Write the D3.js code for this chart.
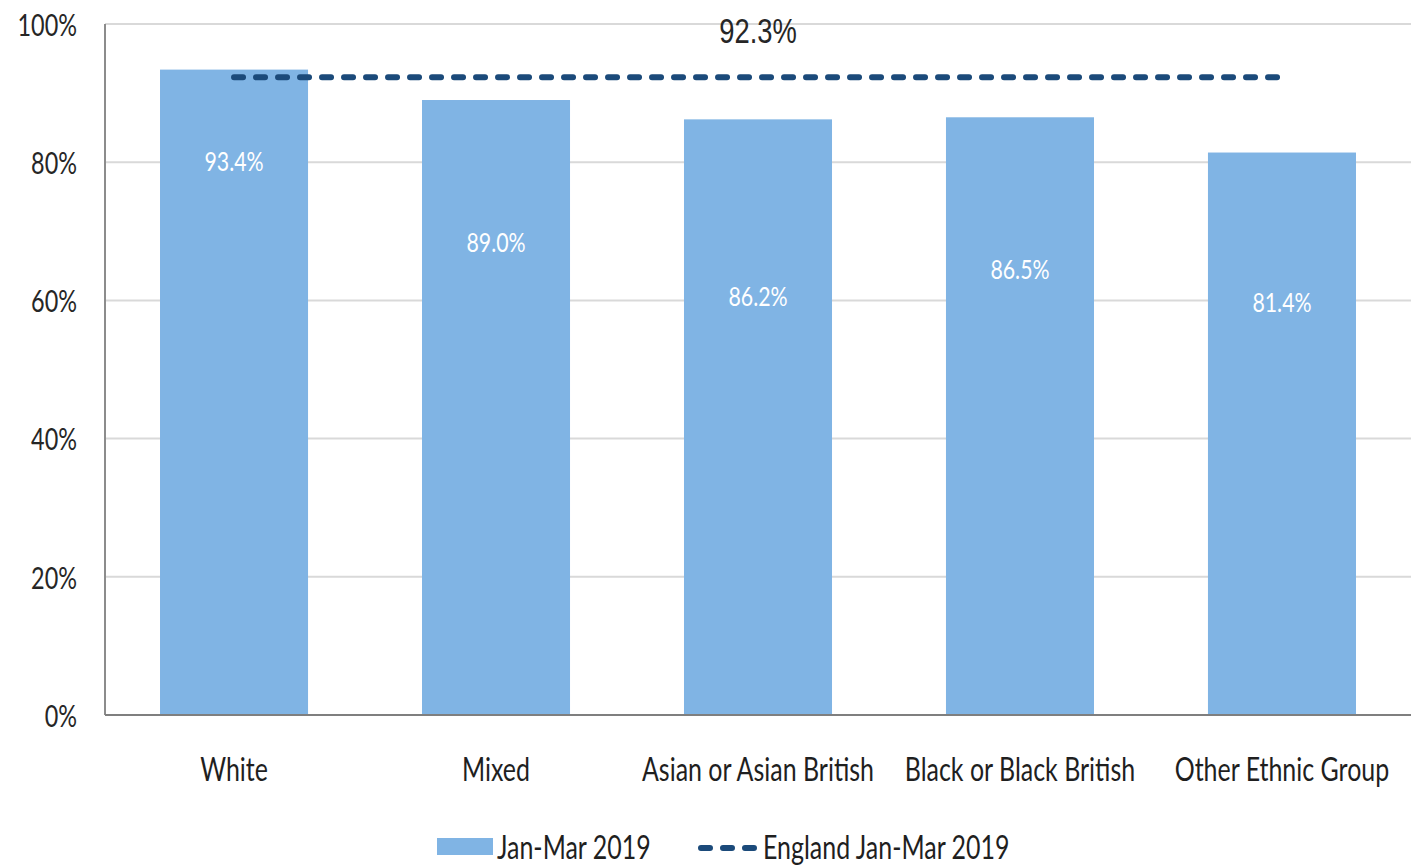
<!DOCTYPE html>
<html>
<head>
<meta charset="utf-8">
<script src="https://cdn.jsdelivr.net/npm/d3@7/dist/d3.min.js"></script>
<style>
  html, body { margin: 0; padding: 0; background: #ffffff; }
  svg { display: block; }
  text { font-family: Lato, "Open Sans", sans-serif; }
</style>
</head>
<body>
<svg id="chart" width="1422" height="867"></svg>
<script>
// Share of people in each ethnic group, Jan-Mar 2019
const categories = ["White", "Mixed", "Asian or Asian British", "Black or Black British", "Other Ethnic Group"];
const rates = [93.4, 89.0, 86.2, 86.5, 81.4];
const englandRate = 92.3;
const yTicks = [0, 20, 40, 60, 80, 100];
const seriesNames = ["Jan-Mar 2019", "England Jan-Mar 2019"];

// Where each in-bar value label sits, in axis units (label centre)
const labelLevels = [80.1, 68.4, 60.6, 64.5, 59.7];

const svg = d3.select("#chart");
const margin = { left: 105, right: 11, top: 24, bottom: 152 };
const W = 1422, H = 867;
const xSX = 0.78;            // horizontal squeeze applied to all text

const x = d3.scaleBand()
  .domain(categories)
  .range([margin.left, W - margin.right])
  .paddingInner(0.435)
  .paddingOuter(0.21);

const y = d3.scaleLinear()
  .domain([0, 100])
  .range([H - margin.bottom, margin.top]);

function squeezedText(g, px, py, str, opts) {
  const t = g.append("text")
    .attr("transform", `translate(${px},${py}) scale(${opts.sx || xSX},1)`)
    .attr("text-anchor", opts.anchor || "middle")
    .attr("dominant-baseline", "central")
    .attr("font-size", opts.size)
    .attr("fill", opts.fill || "#1a1a1a")
    .text(str);
  if (opts.family) t.style("font-family", opts.family);
  return t;
}

// Gridlines
svg.append("g")
  .selectAll("line")
  .data(yTicks.filter(d => d > 0))
  .join("line")
  .attr("x1", margin.left).attr("x2", W - margin.right)
  .attr("y1", d => y(d)).attr("y2", d => y(d))
  .attr("stroke", "#d9d9d9").attr("stroke-width", 2);

// Bars
svg.append("g")
  .selectAll("rect")
  .data(rates)
  .join("rect")
  .attr("x", (d, i) => x(categories[i]))
  .attr("width", x.bandwidth())
  .attr("y", d => y(d))
  .attr("height", d => y(0) - y(d))
  .attr("fill", "#80b4e4");

// Axes lines
svg.append("line")
  .attr("x1", margin.left).attr("x2", margin.left)
  .attr("y1", y(100)).attr("y2", y(0))
  .attr("stroke", "#8c8c8c").attr("stroke-width", 2);
svg.append("line")
  .attr("x1", margin.left).attr("x2", W - margin.right)
  .attr("y1", y(0)).attr("y2", y(0))
  .attr("stroke", "#7f7f7f").attr("stroke-width", 2);

// England benchmark line
const first = categories[0], last = categories[categories.length - 1];
svg.append("line")
  .attr("x1", x(first) + x.bandwidth() / 2)
  .attr("x2", x(last) + x.bandwidth() / 2)
  .attr("y1", y(englandRate)).attr("y2", y(englandRate))
  .attr("stroke", "#1b4a7a")
  .attr("stroke-width", 6)
  .attr("stroke-linecap", "round")
  .attr("stroke-dasharray", "9,13");

// Benchmark value label
squeezedText(svg, x(categories[2]) + x.bandwidth() / 2, 31, englandRate.toFixed(1) + "%",
  { size: 36, family: '"Liberation Sans", Arial, sans-serif', sx: 0.76, fill: "#262626" });

// Y tick labels
const yl = svg.append("g");
yTicks.forEach(t => {
  squeezedText(yl, 77, y(t), t + "%", { size: 30, anchor: "end", fill: "#262626" });
});

// Category labels
const xl = svg.append("g");
categories.forEach(c => {
  squeezedText(xl, x(c) + x.bandwidth() / 2, 769, c, { size: 32, fill: "#1f1f1f" });
});

// Value labels inside bars
const vl = svg.append("g");
rates.forEach((v, i) => {
  squeezedText(vl, x(categories[i]) + x.bandwidth() / 2, y(labelLevels[i]), v.toFixed(1) + "%",
    { size: 26, fill: "#ffffff", sx: 0.82 });
});

// Legend
const lg = svg.append("g");
lg.append("rect").attr("x", 437).attr("y", 838).attr("width", 56).attr("height", 17).attr("fill", "#80b4e4");
squeezedText(lg, 497, 847, seriesNames[0], { size: 32, anchor: "start", fill: "#1f1f1f" });
lg.append("line")
  .attr("x1", 701).attr("x2", 754).attr("y1", 848).attr("y2", 848)
  .attr("stroke", "#1b4a7a").attr("stroke-width", 6)
  .attr("stroke-linecap", "round").attr("stroke-dasharray", "9,13");
squeezedText(lg, 763, 847, seriesNames[1], { size: 32, anchor: "start", fill: "#1f1f1f" });
</script>
</body>
</html>
